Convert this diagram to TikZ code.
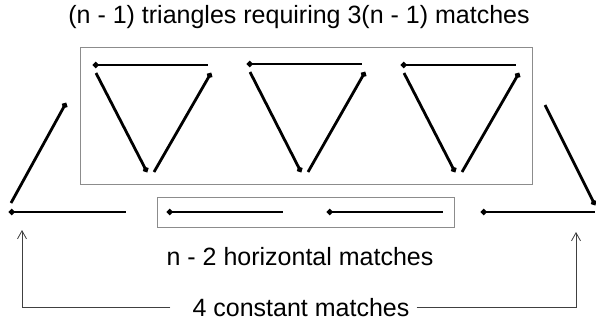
\documentclass[tikz,border=0pt]{standalone}
\usepackage{fontspec}
\setmainfont{Liberation Sans}
\usetikzlibrary{arrows.meta,positioning}
\newcommand\TriShift{154}
\tikzset{
  match/.style={
    line width = 2.8bp,
    {Circle[length=5.5bp]}-
  },
}
\tikzset{
  frame/.style={
    draw = black!45,
    line width = 0.7bp
  },
  pointer/.style={
    draw = black!75,
    line width = 0.8bp,
    -{Straight Barb[length=8bp,width=9bp,line width=0.8bp]}
  },
  caption/.style={
    anchor = base,
    inner sep = 0pt,
    font = \fontsize{25bp}{30bp}\selectfont
  }
}

\begin{document}
\begin{tikzpicture}[x=1bp,y=-1bp]
    \useasboundingbox (0,0) rectangle (596,321);

    % frames round the triangles and the inner horizontals
    \draw[frame] (80,47) rectangle (532,184);
    \draw[frame] (157,197) rectangle (454,227);

    % triangles
    \draw[match] (93,65) --++ (115,0);
    \draw[match] (147,172) -- (96,73);
    \draw[match] (211,73) -- (154,172);

    \draw[match] (93+\TriShift,64) --++ (115,0);
    \draw[match] (147+\TriShift,172) -- (96+\TriShift,72);
    \draw[match] (211+\TriShift,72) -- (154+\TriShift,172);

    \draw[match] (93+2*\TriShift,65) --++ (115,0);
    \draw[match] (147+2*\TriShift,172) -- (96+2*\TriShift,73);
    \draw[match] (211+2*\TriShift,73) -- (154+2*\TriShift,172);

    % outer slanted matches
    \draw[match] (66,103) -- (11,203);
    \draw[match] (595,205) -- (545,105);

    % horizontals
    \draw[match] (9,212) --++ (117,0);
    \draw[match] (167,212) --++ (116,0);
    \draw[match] (327,212) --++ (116,0);
    \draw[match] (481,212) --++ (114,0);

    % texts
    \node[caption] (triangles) at (299,23) {(n - 1) triangles requiring 3(n - 1) matches};
    \node[caption] (horizontal) at (300,265) {n - 2 horizontal matches};
    \node[caption] (constant) at (301,316) {4 constant matches};

    \coordinate (leftend) at (22,230);
    \coordinate (rightend) at (576,232);
    \draw[pointer] ([xshift=-22bp]constant.west) -| (leftend);
    \draw[pointer] ([xshift=7bp]constant.east) -| (rightend);
\end{tikzpicture}
\end{document}
